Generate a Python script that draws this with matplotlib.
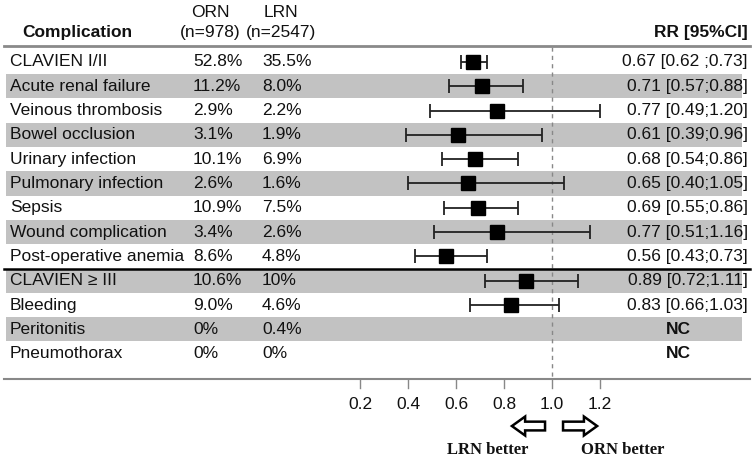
import numpy as np
import matplotlib
matplotlib.use('Agg')
import matplotlib.pyplot as plt
from matplotlib.patches import FancyArrow
from matplotlib.transforms import blended_transform_factory

plt.rcParams['font.family'] = ['Liberation Sans', 'DejaVu Sans']

# table data
complications = ['CLAVIEN I/II', 'Acute renal failure', 'Veinous thrombosis', 'Bowel occlusion',
                 'Urinary infection', 'Pulmonary infection', 'Sepsis', 'Wound complication',
                 'Post-operative anemia', 'CLAVIEN \u2265 III', 'Bleeding', 'Peritonitis', 'Pneumothorax']
orn_pct = ['52.8%', '11.2%', '2.9%', '3.1%', '10.1%', '2.6%', '10.9%', '3.4%', '8.6%',
           '10.6%', '9.0%', '0%', '0%']
lrn_pct = ['35.5%', '8.0%', '2.2%', '1.9%', '6.9%', '1.6%', '7.5%', '2.6%', '4.8%',
           '10%', '4.6%', '0.4%', '0%']
rr = [0.67, 0.71, 0.77, 0.61, 0.68, 0.65, 0.69, 0.77, 0.56, 0.89, 0.83, np.nan, np.nan]
ci_low = [0.62, 0.57, 0.49, 0.39, 0.54, 0.40, 0.55, 0.51, 0.43, 0.72, 0.66, np.nan, np.nan]
ci_high = [0.73, 0.88, 1.20, 0.96, 0.86, 1.05, 0.86, 1.16, 0.73, 1.11, 1.03, np.nan, np.nan]
rr_labels = ['0.67 [0.62 ;0.73]', '0.71 [0.57;0.88]', '0.77 [0.49;1.20]', '0.61 [0.39;0.96]',
             '0.68 [0.54;0.86]', '0.65 [0.40;1.05]', '0.69 [0.55;0.86]', '0.77 [0.51;1.16]',
             '0.56 [0.43;0.73]', '0.89 [0.72;1.11]', '0.83 [0.66;1.03]', 'NC', 'NC']
xticks = [0.2, 0.4, 0.6, 0.8, 1.0, 1.2]

fig = plt.figure(figsize=(7.56, 4.62), dpi=100)
ax = fig.add_axes([0, 0, 1, 1])
ax.set_xlim(-1.3, 1.85)
ax.set_ylim(16.46, -2.55)
ax.axis('off')

fx = blended_transform_factory(fig.transFigure, ax.transData)
n = len(complications)
rows = np.arange(n)
fs = 12.5
txt = '#111111'

# shaded rows
for i in rows[1::2]:
    ax.axhspan(i - 0.5, i + 0.5, xmin=6 / 756, xmax=742 / 756, color='#c2c2c2', lw=0, zorder=0)

# header
ax.text(22 / 756, -1.2, 'Complication', transform=fx, fontsize=fs, fontweight='bold',
        va='center', color=txt)
ax.text(210 / 756, -2.05, 'ORN', transform=fx, fontsize=fs, ha='center', va='center', color=txt)
ax.text(210 / 756, -1.2, '(n=978)', transform=fx, fontsize=fs, ha='center', va='center', color=txt)
ax.text(281 / 756, -2.05, 'LRN', transform=fx, fontsize=fs, ha='center', va='center', color=txt)
ax.text(281 / 756, -1.2, '(n=2547)', transform=fx, fontsize=fs, ha='center', va='center', color=txt)
ax.text(748 / 756, -1.2, 'RR [95%CI]', transform=fx, fontsize=fs, fontweight='bold',
        ha='right', va='center', color=txt)
ax.axhline(-0.66, xmin=4 / 756, xmax=750 / 756, color='#8a8a8a', lw=2)

# separator under post-operative anemia
ax.axhline(8.5, xmin=4 / 756, xmax=750 / 756, color='black', lw=1.8, zorder=3)

# table columns
for i in rows:
    ax.text(10 / 756, i, complications[i], transform=fx, fontsize=fs, va='center', color=txt)
    ax.text(193 / 756, i, orn_pct[i], transform=fx, fontsize=fs, va='center', color=txt)
    ax.text(262 / 756, i, lrn_pct[i], transform=fx, fontsize=fs, va='center', color=txt)
    if rr_labels[i] == 'NC':
        ax.text(678 / 756, i, 'NC', transform=fx, fontsize=fs, fontweight='bold',
                ha='center', va='center', color=txt)
    else:
        ax.text(748 / 756, i, rr_labels[i], transform=fx, fontsize=fs,
                ha='right', va='center', color=txt)

# forest plot
rr_a = np.array(rr)
err = np.array([rr_a - np.array(ci_low), np.array(ci_high) - rr_a])
ax.errorbar(rr_a, rows, xerr=err, fmt='s', color='black', ms=9.5, mfc='black',
            ecolor='#222222', elinewidth=1.3, capsize=5, capthick=1.3, zorder=4)

# reference line
ax.plot([1.0, 1.0], [-0.6, 13.05], ls=(0, (3, 3)), color='#888888', lw=1, zorder=1)

# bottom axis
ax.axhline(13.05, xmin=4 / 756, xmax=750 / 756, color='#888888', lw=1.5)
for t in xticks:
    ax.plot([t, t], [13.05, 13.4], color='#888888', lw=1)
    ax.text(t, 14.1, f'{t:.1f}', fontsize=fs, ha='center', va='center', color=txt)

# direction arrows
arrow_y = 14.98
ax.add_patch(FancyArrow(0.971, arrow_y, -0.138, 0, width=0.36, head_width=0.78,
                        head_length=0.055, length_includes_head=True,
                        fc='white', ec='black', lw=1.8))
ax.add_patch(FancyArrow(1.046, arrow_y, 0.142, 0, width=0.36, head_width=0.78,
                        head_length=0.055, length_includes_head=True,
                        fc='white', ec='black', lw=1.8))
ax.text(0.73, 15.95, 'LRN better', fontsize=12, fontweight='bold', family='Liberation Serif',
        ha='center', va='center', color=txt)
ax.text(1.295, 15.95, 'ORN better', fontsize=12, fontweight='bold', family='Liberation Serif',
        ha='center', va='center', color=txt)

fig.savefig('out.png', dpi=100, facecolor='white')
